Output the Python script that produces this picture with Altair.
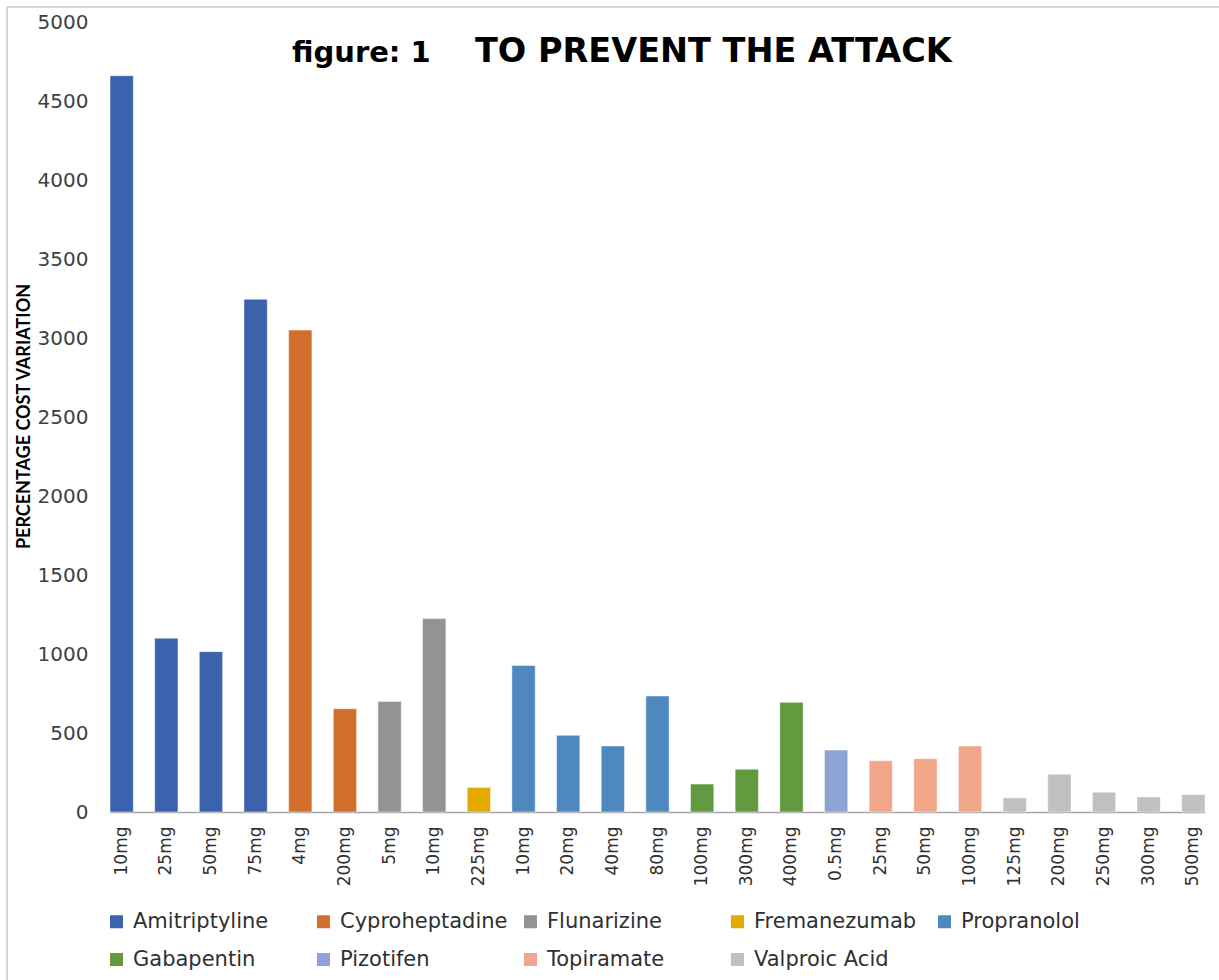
import altair as alt
import pandas as pd

drugs = ["Amitriptyline"] * 4 + ["Cyproheptadine"] * 2 + ["Flunarizine"] * 2 + ["Fremanezumab"] + \
        ["Propranolol"] * 4 + ["Gabapentin"] * 3 + ["Pizotifen"] + ["Topiramate"] * 3 + ["Valproic Acid"] * 5
doses = ["10mg", "25mg", "50mg", "75mg", "4mg", "200mg", "5mg", "10mg", "225mg",
         "10mg", "20mg", "40mg", "80mg", "100mg", "300mg", "400mg", "0.5mg",
         "25mg", "50mg", "100mg", "125mg", "200mg", "250mg", "300mg", "500mg"]
values = [4660, 1100, 1015, 3245, 3050, 654, 700, 1224, 156,
          928, 485, 418, 734, 177, 270, 694, 392,
          325, 337, 418, 89, 239, 125, 95, 110]

legend_order = ["Amitriptyline", "Cyproheptadine", "Flunarizine", "Fremanezumab", "Propranolol",
                "Gabapentin", "Pizotifen", "Topiramate", "Valproic Acid"]
colors = ["#3B63AD", "#D36F2C", "#939393", "#E3AA00", "#4F88BE",
          "#63993F", "#8EA4D5", "#F1A88A", "#C0C0C0"]

keys = [f"{i:02d}|{d}" for i, d in enumerate(doses)]
df = pd.DataFrame({"key": keys, "drug": drugs, "dose": doses, "value": values})

bars = alt.Chart(df).mark_bar(stroke="#ffffff", strokeWidth=0.8, strokeOpacity=0.6).encode(
    x=alt.X("key:N", sort=keys,
            scale=alt.Scale(paddingInner=0.478, paddingOuter=0),
            axis=alt.Axis(title=None, labelExpr="split(datum.label, '|')[1]",
                          labelAngle=270, labelAlign="right", labelBaseline="middle",
                          labelPadding=14, ticks=False, labelFont="DejaVu Sans",
                          labelFontSize=17, labelColor="#303030",
                          domainColor="#A6A6A6", domainWidth=1.5)),
    y=alt.Y("value:Q", scale=alt.Scale(domain=[0, 5000], nice=False),
            axis=alt.Axis(title="PERCENTAGE  COST  VARIATION", values=list(range(0, 5001, 500)),
                          format="d",
                          grid=False, domain=False, ticks=False, labelPadding=22,
                          labelFont="DejaVu Sans", labelFontSize=20, labelColor="#404040",
                          titleFont="Lato", titleFontWeight="bold", titleFontSize=18,
                          titleColor="#000000", titleX=-77, titleY=394, titleAngle=270,
                          titleAlign="center", titleBaseline="bottom")),
    color=alt.Color("drug:N", scale=alt.Scale(domain=legend_order, range=colors),
                    legend=alt.Legend(title=None, orient="none", legendX=-4, legendY=889,
                                      direction="horizontal", columns=5, gridAlign="all",
                                      columnPadding=12, rowPadding=16, symbolType="square",
                                      symbolSize=169, symbolStrokeWidth=0, labelOffset=6,
                                      labelFont="DejaVu Sans", labelFontSize=21,
                                      labelColor="#303030", labelLimit=400)),
)

one = alt.Data(values=[{}])

t1 = alt.Chart(one).mark_text(text="figure: 1", font="DejaVu Sans", fontWeight="bold",
                              fontSize=29, align="left", baseline="alphabetic",
                              color="#000000").encode(x=alt.value(182), y=alt.value(40))
t2 = alt.Chart(one).mark_text(text="TO PREVENT THE ATTACK", font="DejaVu Sans", fontWeight="bold",
                              fontSize=33.5, align="left", baseline="alphabetic",
                              color="#000000").encode(x=alt.value(365), y=alt.value(40))

border_top = alt.Chart(one).mark_rule(color="#C8C8C8", strokeWidth=1.5).encode(
    x=alt.value(-103), x2=alt.value(1109), y=alt.value(-15))
border_left = alt.Chart(one).mark_rule(color="#C8C8C8", strokeWidth=1.5).encode(
    x=alt.value(-103), y=alt.value(-15), y2=alt.value(958))

chart = alt.layer(bars, t1, t2, border_top, border_left).properties(
    width=1095, height=790,
    padding={"left": 110, "top": 22, "right": 14, "bottom": 168},
    autosize=alt.AutoSizeParams(type="none"),
    background="#ffffff",
).configure_view(stroke=None)

chart.save("out.html", embed_options={"renderer": "svg", "actions": False})
